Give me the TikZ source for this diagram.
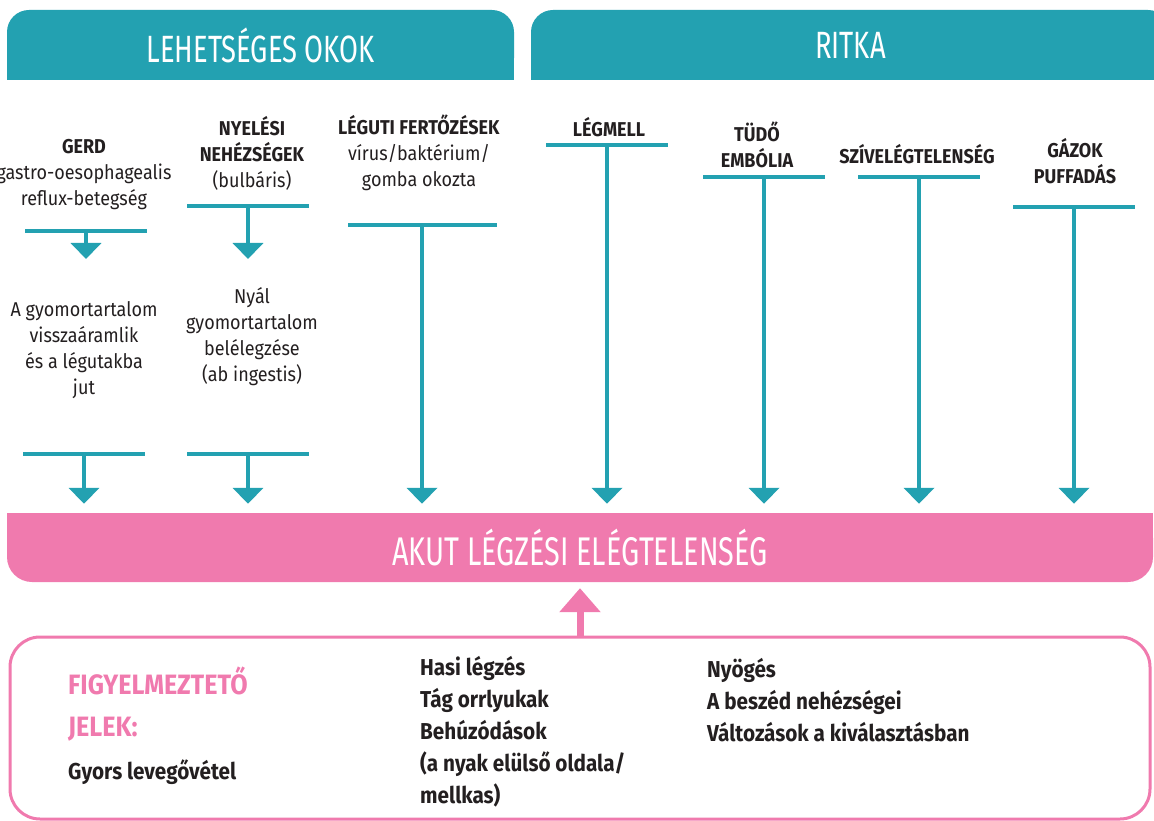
\documentclass[tikz,border=0pt]{standalone}
\usepackage{fontspec}
\setmainfont{Fira Sans}[FakeStretch=0.9]
\newfontfamily\headfont{Fira Sans}[FakeStretch=0.72]
\usetikzlibrary{arrows.meta}

\definecolor{tealc}{HTML}{23A1B1}
\definecolor{pinkc}{HTML}{F07AAE}
\definecolor{inkc}{HTML}{231F20}

\tikzset{
  tab/.style={fill=tealc, rounded corners=22pt, minimum height=70pt, inner sep=0pt,
    text=white, font=\headfont\fontsize{38}{40}\selectfont},
  akutbar/.style={fill=pinkc, rounded corners=25pt, minimum height=69pt, inner sep=0pt,
    text=white, font=\headfont\fontsize{40}{42}\selectfont},
  bar/.style={fill=tealc, minimum width=122pt, minimum height=4.5pt, inner sep=0pt},
  cause/.style={align=center, text=inkc, inner sep=0pt, font=\fontsize{20}{26}\selectfont},
  tarrow/.style={draw=tealc, line width=4pt, -{Triangle[width=30pt,length=16pt]}},
  toakut/.style={tarrow, shorten >=9pt},
  signbox/.style={draw=pinkc, line width=3pt, rounded corners=30pt},
  sign/.style={align=left, anchor=west, text=inkc, inner sep=0pt,
    font=\bfseries\fontsize{23}{32}\selectfont},
  parrow/.style={draw=pinkc, line width=7pt, -{Triangle[width=40pt,length=24pt]}, shorten >=6pt}
}

\begin{document}
\begin{tikzpicture}[x=1pt,y=-1pt]
  \clip (0,0) rectangle (1154,821);

  \fill[tealc] (7,45) rectangle (514,80);
  \node[tab, minimum width=507pt] (okok) at (260.5,45) {LEHETSÉGES OKOK};
  \fill[tealc] (531,45) rectangle (1170,80);
  \node[tab, minimum width=639pt] (ritka) at (850.5,45) {RITKA};

  \fill[pinkc] (7,513) rectangle (1153,548);
  \node[akutbar, minimum width=1146pt] (akut) at (580,547.5) {AKUT LÉGZÉSI ELÉGTELENSÉG};

  \node[cause] (gerd) at (84,175) {\textbf{GERD}\\gastro-oesophagealis\\reflux-betegség};
  \node[bar] (gerdbar) at (86,231) {};
  \coordinate (gerdtip) at (86,259);
  \node[cause] (gerdres) at (84,350) {A gyomortartalom\\visszaáramlik\\és a légutakba\\jut};
  \node[bar] (gerdlow) at (84,454) {};
  \draw[tarrow] (gerdbar.center) -- (gerdtip);
  \draw[toakut] (gerdlow.center) -- (gerdlow |- akut.north);

  \node[cause] (nyeles) at (252,153) {\textbf{NYELÉSI}\\\textbf{NEHÉZSÉGEK}\\(bulbáris)};
  \node[bar] (nyelesbar) at (248,206) {};
  \coordinate (nyelestip) at (248,259);
  \node[cause] (nyelesres) at (252,337) {Nyál\\gyomortartalom\\belélegzése\\(ab ingestis)};
  \node[bar] (nyeleslow) at (248,454) {};
  \draw[tarrow] (nyelesbar.center) -- (nyelestip);
  \draw[toakut] (nyeleslow.center) -- (nyeleslow |- akut.north);

  \node[cause] (leguti) at (419,153) {\textbf{LÉGUTI FERTŐZÉSEK}\\vírus/baktérium/\\gomba okozta};
  \node[bar, minimum width=149pt] (legutibar) at (422,225) {};
  \draw[toakut] (legutibar.center) -- (legutibar |- akut.north);

  \node[cause, font=\bfseries\fontsize{20}{26}\selectfont] (legmell) at (609,127) {LÉGMELL};
  \node[bar] (legmellbar) at (607,145) {};
  \draw[toakut] (legmellbar.center) -- (legmellbar |- akut.north);

  \node[cause, font=\bfseries\fontsize{20}{26}\selectfont] (tudo) at (757,145) {TÜDŐ\\EMBÓLIA};
  \node[bar] (tudobar) at (764,177) {};
  \draw[toakut] (tudobar.center) -- (tudobar |- akut.north);

  \node[cause, font=\bfseries\fontsize{20}{26}\selectfont] (sziv) at (917,154) {SZÍVELÉGTELENSÉG};
  \node[bar] (szivbar) at (919,177) {};
  \draw[toakut] (szivbar.center) -- (szivbar |- akut.north);

  \node[cause, font=\bfseries\fontsize{20}{26}\selectfont] (gazok) at (1075,161) {GÁZOK\\PUFFADÁS};
  \node[bar] (gazokbar) at (1074,207) {};
  \draw[toakut] (gazokbar.center) -- (gazokbar |- akut.north);

  \node[signbox, minimum width=1140pt, minimum height=182pt] (signs) at (580,728) {};
  \draw[parrow] (signs.north) -- (akut.south);

  \node[sign, text=pinkc, font=\bfseries\fontsize{28}{42}\selectfont] (figy) at (68,704) {FIGYELMEZTETŐ\\JELEK:};
  \node[sign] (gyors) at (68,772) {Gyors levegővétel};
  \node[sign] (hasi) at (420,732) {Hasi légzés\\Tág orrlyukak\\Behúzódások\\(a nyak elülső oldala/\\mellkas)};
  \node[sign] (nyoges) at (707,700) {Nyögés\\A beszéd nehézségei\\Változások a kiválasztásban};
\end{tikzpicture}
\end{document}
